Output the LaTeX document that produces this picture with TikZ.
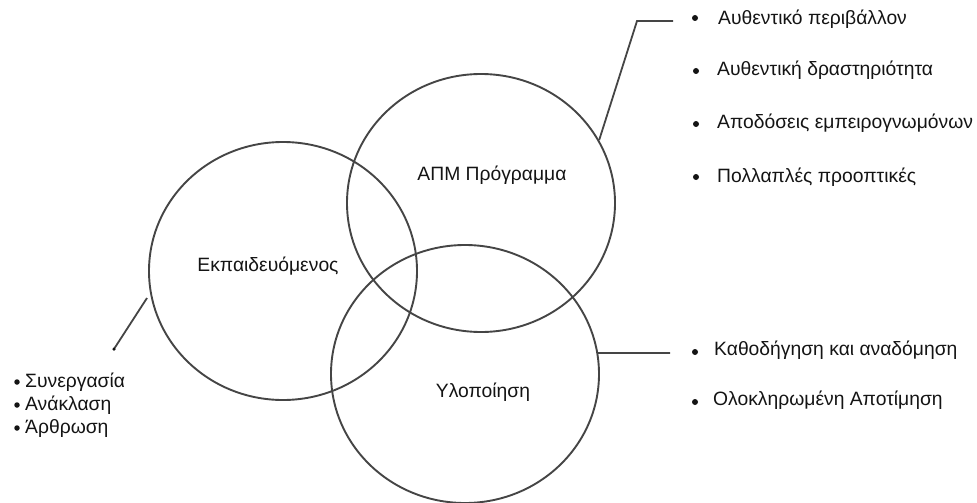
\documentclass[tikz,border=0pt]{standalone}
\usepackage{fontspec}
\setmainfont{Liberation Sans}
\usetikzlibrary{shapes.geometric}
\definecolor{ink}{HTML}{141414}
\definecolor{rim}{HTML}{454545}
\begin{document}
\begin{tikzpicture}[x=1pt,y=-1pt,
  every node/.style={text=ink},
  ring/.style={ellipse, draw=rim, line width=1.9pt, minimum width=268pt, minimum height=258pt, inner sep=0pt},
  title/.style={font=\fontsize{19.3}{23}\selectfont, inner sep=0pt, anchor=base},
  item/.style={font=\fontsize{19.3}{23}\selectfont, inner sep=0pt, anchor=base west},
  dot/.style={circle, fill=ink, inner sep=0pt, minimum size=6pt},
  link/.style={draw=rim, line width=1.8pt}]
\useasboundingbox (0,0) rectangle (977,503);

% the three overlapping rings
\node[ring] (L) at (283,271) {};
\node[ring] (T) at (481,203) {};
\node[ring] (B) at (465,374) {};

% ring titles
\node[title] (Lt) at (268,271) {Εκπαιδευόμενος};
\node[title] (Tt) at (492,180) {ΑΠΜ Πρόγραμμα};
\node[title] (Bt) at (483,397) {Υλοποίηση};

% list attached to the programme ring
\coordinate (tk) at (637,21);
\coordinate (te) at (673,21);
\draw[link] (T.28) -- (tk) -- (te);
\node[dot] (d1) at (695,18) {};
\node[item] (i1) at (718,25) {Αυθεντικό περιβάλλον};
\node[dot] (d2) at (696,71) {};
\node[item] (i2) at (717,76) {Αυθεντική δραστηριότητα};
\node[dot] (d3) at (696,124) {};
\node[item] (i3) at (717,128) {Αποδόσεις εμπειρογνωμόνων};
\node[dot] (d4) at (696,177) {};
\node[item] (i4) at (717,182) {Πολλαπλές προοπτικές};

% list attached to the implementation ring
\coordinate (be) at (670,353);
\draw[link] (B.9) -- (be);
\node[dot] (d5) at (695,352) {};
\node[item] (i5) at (714,355) {Καθοδήγηση και αναδόμηση};
\node[dot] (d6) at (695,402) {};
\node[item] (i6) at (713,405) {Ολοκληρωμένη Αποτίμηση};

% list attached to the learner ring
\coordinate (lc1) at (147,298);
\coordinate (lc2) at (114,349);
\draw[link] (lc1) -- (lc2);
\node[dot, minimum size=3.5pt] (lend) at (lc2) {};
\node[dot, minimum size=5.5pt] (d7) at (17,382) {};
\node[item] (i7) at (25,387) {Συνεργασία};
\node[dot, minimum size=5.5pt] (d8) at (17,405) {};
\node[item] (i8) at (25,410) {Ανάκλαση};
\node[dot, minimum size=5.5pt] (d9) at (17,428) {};
\node[item] (i9) at (25,433) {Άρθρωση};
\end{tikzpicture}
\end{document}
